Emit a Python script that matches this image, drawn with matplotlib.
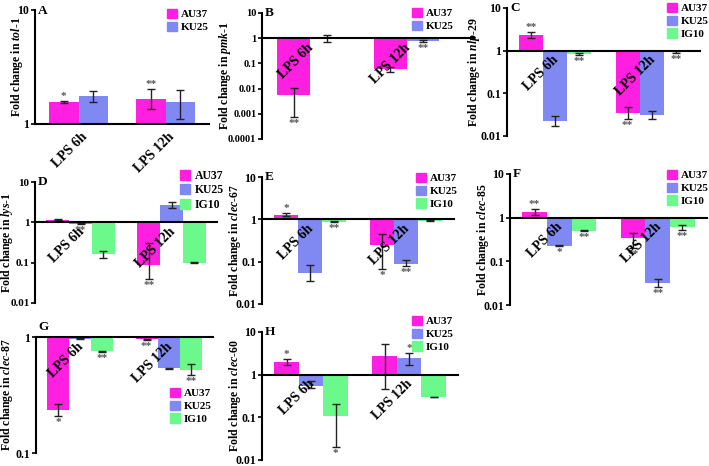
import numpy as np
import matplotlib.pyplot as plt
from matplotlib.patches import Patch

plt.rcParams['font.family'] = 'Liberation Serif'
plt.rcParams['font.weight'] = 'bold'
plt.rcParams['mathtext.fontset'] = 'custom'
plt.rcParams['mathtext.rm'] = 'Liberation Serif:bold'
plt.rcParams['mathtext.it'] = 'Liberation Serif:italic:bold'

# -------------------------------
# Data (fold change, error bar ends, significance)
# rows = strains, columns = LPS 6h / LPS 12h
# -------------------------------
groups = ["LPS 6h", "LPS 12h"]
strains = ["AU37", "KU25", "IG10"]
colors = ["#FF1FE0", "#8088F2", "#6CF98C"]

tol1_mean = [[1.56, 1.65], [1.76, 1.56]]
tol1_lo = [[1.52, 1.35], [1.56, 1.10]]
tol1_hi = [[1.60, 2.04], [1.95, 2.00]]
tol1_stars = [["*", "**"], ["", ""]]

pmk1_mean = [[0.0056, 0.059], [0.98, 0.80]]
pmk1_lo = [[0.00076, 0.045], [0.70, 0.72]]
pmk1_hi = [[0.0105, 0.075], [1.40, 0.88]]
pmk1_stars = [["**", ""], ["", "**"]]

nlp29_mean = [[2.35, 0.035], [0.023, 0.031], [0.84, 0.93]]
nlp29_lo = [[2.0, 0.025], [0.017, 0.025], [0.80, 0.90]]
nlp29_hi = [[2.8, 0.047], [0.030, 0.038], [0.90, 0.97]]
nlp29_stars = [["**", "**"], ["", ""], ["**", "**"]]

lys1_mean = [[1.15, 0.09], [0.93, 2.7], [0.16, 0.10]]
lys1_lo = [[1.12, 0.04], [0.90, 2.3], [0.13, 0.098]]
lys1_hi = [[1.18, 0.30], [0.96, 3.2], [0.19, 0.102]]
lys1_stars = [["", "**"], ["**", ""], ["", ""]]

clec67_mean = [[1.3, 0.25], [0.055, 0.09], [0.88, 0.93]]
clec67_lo = [[1.2, 0.068], [0.035, 0.078], [0.86, 0.91]]
clec67_hi = [[1.42, 0.46], [0.085, 0.11], [0.90, 0.95]]
clec67_stars = [["*", "*"], ["", "**"], ["**", ""]]

clec85_mean = [[1.35, 0.35], [0.23, 0.032], [0.50, 0.60]]
clec85_lo = [[1.15, 0.20], [0.22, 0.026], [0.49, 0.52]]
clec85_hi = [[1.6, 0.45], [0.24, 0.040], [0.51, 0.68]]
clec85_stars = [["**", "**"], ["*", "**"], ["**", "**"]]

clec87_mean = [[0.235, 0.96], [0.97, 0.54], [0.75, 0.52]]
clec87_lo = [[0.21, 0.95], [0.955, 0.535], [0.745, 0.47]]
clec87_hi = [[0.265, 0.97], [0.99, 0.545], [0.755, 0.58]]
clec87_stars = [["*", "**"], ["", ""], ["**", "**"]]

clec60_mean = [[2.0, 2.8], [0.55, 2.5], [0.11, 0.30]]
clec60_lo = [[1.65, 0.47], [0.50, 1.7], [0.02, 0.295]]
clec60_hi = [[2.3, 5.3], [0.70, 3.2], [0.20, 0.305]]
clec60_stars = [["*", ""], ["", "*"], ["*", ""]]

# -------------------------------
# Figure
# -------------------------------
W, H = 709, 466
fig = plt.figure(figsize=(W / 100, H / 100), dpi=100)


def panel(box, letter, gene, mean, lo, hi, stars, ylim, yticks, ylabs,
          label_x, letter_xy, legend_xy, xright=1.5, cat_below=False,
          legend_fs=8, tick_fs=8.5):
    left, top, right, bottom = box
    ax = fig.add_axes([left / W, 1 - bottom / H, (right - left) / W, (bottom - top) / H])
    ax.set_yscale("log")
    n = len(mean)
    w = 0.34 if n == 2 else 0.25
    gx = np.arange(len(groups))
    for i in range(n):
        x = gx + (i - (n - 1) / 2) * w
        m = np.array(mean[i])
        l = np.array(lo[i])
        h = np.array(hi[i])
        ax.bar(x, m - 1, bottom=1, width=w, color=colors[i], zorder=2)
        ax.errorbar(x, m, yerr=[m - l, h - m], fmt="none", ecolor="#222222",
                    elinewidth=1, capsize=3, capthick=1, zorder=3)
        for j in range(len(groups)):
            s = stars[i][j]
            if not s:
                continue
            if m[j] >= 1:
                ax.annotate(s, (x[j], h[j]), xytext=(0, 0), textcoords="offset pixels",
                            ha="center", va="bottom", fontsize=8, color="#555555", zorder=4)
            else:
                ax.annotate(s, (x[j], l[j]), xytext=(0, -2), textcoords="offset pixels",
                            ha="center", va="top", fontsize=8, color="#555555", zorder=4)

    ax.set_xlim(-0.5, xright)
    ax.set_ylim(*ylim)
    ax.set_yticks(yticks)
    ax.set_yticklabels(ylabs)
    ax.yaxis.set_minor_locator(plt.NullLocator())
    ax.set_xticks([])
    ax.tick_params(axis="y", direction="out", length=3, width=1.2, labelsize=tick_fs, pad=1)
    for sp in ["top", "right", "bottom"]:
        ax.spines[sp].set_visible(False)
    ax.spines["left"].set_linewidth(1.5)
    ax.axhline(1, color="black", lw=1.5, zorder=4, clip_on=False)

    # category labels
    for j, g in enumerate(groups):
        if cat_below:
            off = (11, -6)
        else:
            off = (6, -3)
        ax.annotate(g, (gx[j], 1), xytext=off, textcoords="offset pixels",
                    ha="right", va="top", rotation=45, fontsize=10, zorder=6,
                    annotation_clip=False)

    fig.text(letter_xy[0] / W, 1 - letter_xy[1] / H, letter, fontsize=9.5,
             ha="left", va="center")
    fig.text(label_x / W, 1 - (top + bottom) / 2 / H, "Fold change in " + gene,
             rotation=90, ha="center", va="center", fontsize=8.5)

    handles = [Patch(color=colors[i], label=strains[i]) for i in range(n)]
    ax.legend(handles=handles, loc="upper right",
              bbox_to_anchor=(legend_xy[0] / W, 1 - legend_xy[1] / H),
              bbox_transform=fig.transFigure, frameon=False, fontsize=legend_fs,
              handlelength=0.9, handleheight=0.9, handletextpad=0.4,
              labelspacing=0.2, borderpad=0, borderaxespad=0)
    return ax


dec3 = [0.01, 0.1, 1, 10]
dec3_lab = ["0.01", "0.1", "1", "10"]

panel((35, 10, 209, 124), "A", r"$\it{tol}$-$\it{1}$", tol1_mean, tol1_lo, tol1_hi,
      tol1_stars, (1, 10), [1, 10], ["1", "10"], 17, (38, 11), (209, 9), cat_below=True)
panel((262, 13, 474, 139), "B", r"$\it{pmk}$-$\it{1}$", pmk1_mean, pmk1_lo, pmk1_hi,
      pmk1_stars, (1e-4, 10), [1e-4, 1e-3, 0.01, 0.1, 1, 10],
      ["0.0001", "0.001", "0.01", "0.1", "1", "10"], 225, (265, 13), (454, 8),
      xright=1.7, tick_fs=7.5)
panel((507, 8, 700, 136), "C", r"$\it{nlp}$-$\it{29}$", nlp29_mean, nlp29_lo, nlp29_hi,
      nlp29_stars, (0.01, 10), dec3, dec3_lab, 474, (510, 8), (709, 3))
panel((35, 182, 217, 303), "D", r"$\it{lys}$-$\it{1}$", lys1_mean, lys1_lo, lys1_hi,
      lys1_stars, (0.01, 10), dec3, dec3_lab, 7, (38, 182), (224, 170),
      legend_fs=8.5, tick_fs=8)
panel((262, 177, 454, 304), "E", r"$\it{clec}$-$\it{67}$", clec67_mean, clec67_lo, clec67_hi,
      clec67_stars, (0.01, 10), dec3, dec3_lab, 235, (265, 177), (458, 173))
panel((510, 174, 707, 305), "F", r"$\it{clec}$-$\it{85}$", clec85_mean, clec85_lo, clec85_hi,
      clec85_stars, (0.01, 10), dec3, dec3_lab, 483, (513, 174), (709, 170))
panel((36, 337, 213, 453), "G", r"$\it{clec}$-$\it{87}$", clec87_mean, clec87_lo, clec87_hi,
      clec87_stars, (0.1, 1), [0.1, 1], ["0.1", "1"], 7, (38, 327), (212, 388))
panel((262, 332, 458, 460), "H", r"$\it{clec}$-$\it{60}$", clec60_mean, clec60_lo, clec60_hi,
      clec60_stars, (0.01, 10), dec3, dec3_lab, 235, (265, 332), (454, 316))

plt.savefig("out.png", dpi=100)
